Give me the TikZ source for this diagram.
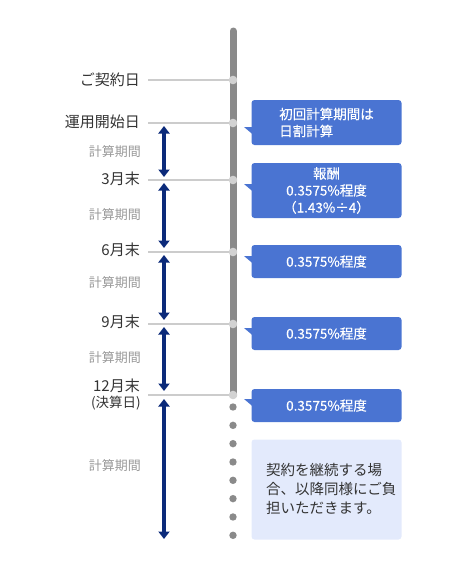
\documentclass[tikz,border=0pt]{standalone}
\usepackage{fontspec}
\setmainfont{Noto Sans CJK JP}
\newfontfamily\boxfont[FakeBold=0.35]{Noto Sans CJK JP}
\usetikzlibrary{arrows.meta}
\definecolor{bargray}{HTML}{8A8A8A}
\definecolor{linegray}{HTML}{CCCCCC}
\definecolor{dotlight}{HTML}{D2D2D2}
\definecolor{navy}{HTML}{0B2A7A}
\definecolor{boxblue}{HTML}{4A74D2}
\definecolor{boxlight}{HTML}{E3EAFC}
\definecolor{txt}{HTML}{333333}
\definecolor{subtxt}{HTML}{999999}
\tikzset{
  datelabel/.style={anchor=east,inner sep=0pt,text=txt,font=\fontsize{15}{17}\selectfont},
  periodlabel/.style={anchor=east,inner sep=0pt,text=subtxt,font=\fontsize{13}{15}\selectfont},
  tick/.style={draw=linegray,line width=2pt},
  joint/.style={circle,fill=dotlight,inner sep=0pt,minimum size=8.6pt},
  moredot/.style={circle,fill=bargray,inner sep=0pt,minimum size=7.4pt},
  period/.style={draw=navy,line width=3.2pt,{Triangle[width=11pt,length=7.5pt]}-{Triangle[width=11pt,length=7.5pt]}},
  bluebox/.style={rectangle,fill=boxblue,rounded corners=3pt,minimum width=150pt,text=white,inner sep=0pt,align=center,font=\boxfont\fontsize{13.5}{17}\selectfont},
  pointer/.style={fill=boxblue},
  lightbox/.style={rectangle,fill=boxlight,rounded corners=3pt,minimum width=150pt,minimum height=100pt,text=txt,inner sep=0pt}
}
\begin{document}
\begin{tikzpicture}[x=1pt,y=-1pt]
\useasboundingbox (0,0) rectangle (462,568);
% main bar
\coordinate (bartop) at (233,31);
\coordinate (barbot) at (233,395);
\draw[bargray,line width=7pt,line cap=round] (bartop) -- (barbot);
% ticks
\foreach \n/\y in {1/80,2/123,3/180,4/252,5/324,6/395}{
  \coordinate (t\n) at (148,\y);
  \node[joint] (c\n) at (233,\y) {};
  \draw[tick] (t\n) -- (c\n.west);
}
% more dots
\foreach \i in {0,...,7}{
  \node[moredot] (d\i) at (233,{407+18.33*\i}) {};
}
% date labels
\node[datelabel] (l1) at (140,80) {ご契約日};
\node[datelabel] (l2) at (140,122) {運用開始日};
\node[datelabel] (l3) at (140,179) {3月末};
\node[datelabel] (l4) at (140,250) {6月末};
\node[datelabel] (l5) at (140,322) {9月末};
\node[datelabel] (l6) at (140,386) {12月末};
\node[datelabel,font=\fontsize{13.5}{15}\selectfont] (l7) at (141,403) {(決算日)};
% period labels
\node[periodlabel] (p1) at (141,152) {計算期間};
\node[periodlabel] (p2) at (141,215) {計算期間};
\node[periodlabel] (p3) at (141,283) {計算期間};
\node[periodlabel] (p4) at (141,358) {計算期間};
\node[periodlabel] (p5) at (141,466) {計算期間};
% period arrows
\coordinate (a1s) at (164,126); \coordinate (a1e) at (164,177);
\coordinate (a2s) at (164,183); \coordinate (a2e) at (164,248);
\coordinate (a3s) at (164,255); \coordinate (a3e) at (164,320);
\coordinate (a4s) at (164,327); \coordinate (a4e) at (164,391);
\coordinate (a5s) at (164,399); \coordinate (a5e) at (164,539);
\foreach \n in {1,...,5}{ \draw[period] (a\n s) -- (a\n e); }
% blue boxes
\node[bluebox,minimum height=45pt,align=left] (b1) at (326.5,122.5) {初回計算期間は\\日割計算};
\node[bluebox,minimum height=55pt] (b2) at (326.5,190.5) {報酬\\0.3575\%程度\\（1.43\%÷4）};
\node[bluebox,minimum height=33pt] (b3) at (326.5,261.5) {0.3575\%程度};
\node[bluebox,minimum height=33pt] (b4) at (326.5,333.5) {0.3575\%程度};
\node[bluebox,minimum height=33pt] (b5) at (326.5,405.5) {0.3575\%程度};
% pointers
\foreach \n/\y in {1/127,2/184,3/256,4/328,5/399}{
  \fill[pointer] ([xshift=1pt]b\n.west |- 0,\y) -- (244,\y) -- ([xshift=1pt]b\n.west |- 0,{\y+7}) -- cycle;
}
% light box
\node[lightbox] (b6) at (326.5,489.5) {};
\node[anchor=west,inner sep=0pt,text=txt,align=left,font=\fontsize{14.5}{19}\selectfont] (b6t) at (266,489) {契約を継続する場\\合、以降同様にご負\\担いただきます。};
\end{tikzpicture}
\end{document}
